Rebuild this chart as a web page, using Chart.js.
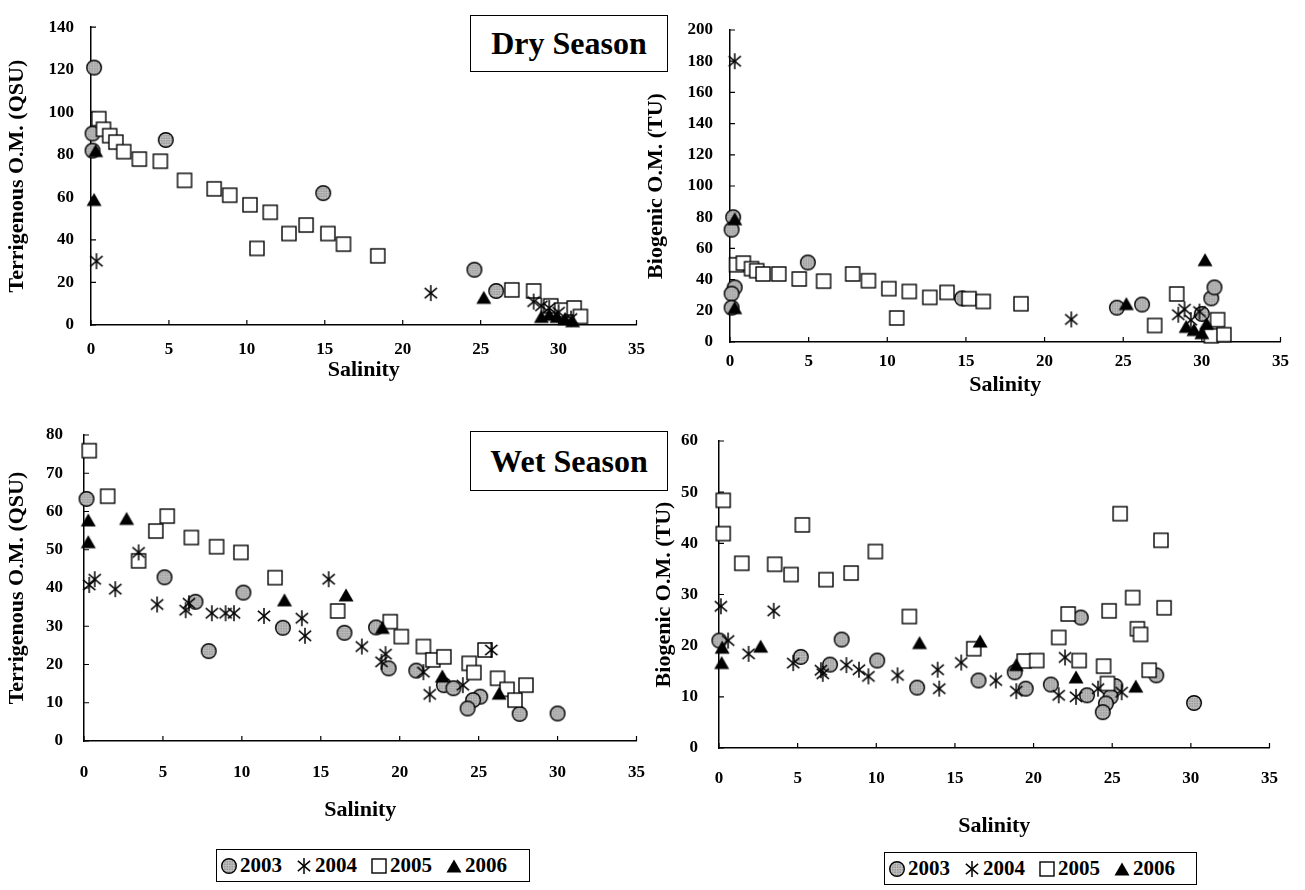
<!DOCTYPE html>
<html>
<head>
<meta charset="utf-8">
<script src="https://cdn.jsdelivr.net/npm/chart.js@4.4.1/dist/chart.umd.min.js"></script>
<style>
    body { margin: 0; background: #fff; width: 1305px; height: 890px; position: relative; overflow: hidden; font-family: "Liberation Serif", "Times New Roman", serif; }
    canvas.panel { position: absolute; }
    .season { position: absolute; border: 1.5px solid #000; background: #fff; font-weight: bold; font-size: 32px; display: flex; align-items: center; justify-content: center; box-sizing: border-box; }
    .legend { position: absolute; border: 1.5px solid #000; background: #fff; font-weight: bold; font-size: 21px; display: flex; align-items: center; box-sizing: border-box; padding-left: 3px; white-space: nowrap; }
    .legend span { display: inline-flex; align-items: center; margin-right: 13px; }
    .legend canvas { margin-right: 2px; }
</style>
</head>
<body>
<canvas id="dryTerr" class="panel"></canvas>
<canvas id="dryBio" class="panel"></canvas>
<canvas id="wetTerr" class="panel"></canvas>
<canvas id="wetBio" class="panel"></canvas>

<div class="season" style="left:470px; top:15px; width:198px; height:57px;">Dry Season</div>
<div class="season" style="left:470px; top:431px; width:198px; height:60px;">Wet Season</div>
<div class="legend" id="legendLeft" style="left:216px; top:849px; width:314px; height:33px;"></div>
<div class="legend" id="legendRight" style="left:884px; top:852px; width:313px; height:33px;"></div>

<script>
// tick labels
const salinityTicks = [0, 5, 10, 15, 20, 25, 30, 35];
const dryTerrTicks = [0, 20, 40, 60, 80, 100, 120, 140];
const dryBioTicks = [0, 20, 40, 60, 80, 100, 120, 140, 160, 180, 200];
const wetTerrTicks = [0, 10, 20, 30, 40, 50, 60, 70, 80];
const wetBioTicks = [0, 10, 20, 30, 40, 50, 60];

const years = ["2003", "2004", "2005", "2006"];

// dry season, terrigenous O.M. (QSU) vs salinity
const dryTerr2003 = [[0.2, 121], [0.1, 90], [0.1, 82], [4.8, 87], [14.9, 62], [24.6, 26], [26.0, 16]];
const dryTerr2004 = [[0.35, 30], [21.8, 15], [28.4, 11], [28.9, 9], [29.4, 8], [30.0, 6], [30.8, 3]];
const dryTerr2005 = [[0.5, 97], [0.8, 92], [1.2, 89], [1.6, 86], [2.1, 81.5], [3.1, 78], [4.45, 77], [6.0, 68],
    [7.9, 64], [8.9, 61], [10.2, 56.5], [11.5, 53], [10.65, 36], [12.7, 43], [13.8, 47], [15.2, 43], [16.2, 38],
    [18.4, 32.5], [27.0, 16.5], [28.4, 16], [29.5, 9], [30.2, 7], [31.0, 8], [31.4, 4]];
const dryTerr2006 = [[0.3, 82], [0.2, 59], [25.2, 13], [28.9, 4], [29.4, 5], [29.9, 4], [30.4, 3], [30.9, 2]];

// dry season, biogenic O.M. (TU)
const dryBio2003 = [[0.2, 80], [0.1, 72], [0.3, 35], [0.1, 31], [0.1, 22], [4.95, 51], [14.75, 28], [24.6, 22],
    [26.2, 24], [30.0, 18], [30.6, 28], [30.8, 35]];
const dryBio2004 = [[0.3, 180], [21.7, 14.5], [28.5, 17.5], [28.9, 21], [29.3, 14], [29.85, 19.5]];
const dryBio2005 = [[0.42, 49.5], [0.85, 50.6], [1.37, 47], [1.7, 45.7], [2.1, 43.6], [3.1, 43.6], [4.4, 40.4],
    [5.95, 39], [7.8, 43.6], [8.8, 39.3], [10.1, 34.2], [11.4, 32.4], [10.6, 15.4], [12.7, 28.6], [13.8, 31.8],
    [15.2, 27.8], [16.1, 26], [18.5, 24.5], [27.0, 10.6], [28.4, 30.8], [31.0, 14.3], [30.6, 4], [31.4, 4.7]];
const dryBio2006 = [[0.3, 79], [0.3, 22], [25.2, 24.6], [30.2, 52.8], [29.0, 10], [29.5, 8], [30.0, 6], [30.3, 12]];

// wet season, terrigenous O.M. (QSU)
const wetTerr2003 = [[0.16, 63.3], [5.1, 42.8], [7.06, 36.4], [7.9, 23.5], [10.1, 38.8], [12.6, 29.6], [16.5, 28.3],
    [18.5, 29.7], [19.3, 19], [21.05, 18.4], [22.8, 14.6], [23.4, 13.8], [25.1, 11.6], [24.65, 10.7], [24.3, 8.5],
    [27.6, 7.1], [30.0, 7.2]];
const wetTerr2004 = [[0.33, 40.8], [0.68, 42.3], [1.98, 39.7], [3.46, 49.3], [4.63, 35.7], [6.44, 34.2], [6.65, 36],
    [8.1, 33.4], [8.97, 33.4], [9.5, 33.4], [11.4, 32.7], [13.8, 32.1], [14.0, 27.5], [15.5, 42.3], [17.6, 24.7],
    [19.1, 22.7], [18.85, 20.7], [21.5, 18], [21.9, 12.2], [24.0, 14.6], [25.8, 23.8]];
const wetTerr2005 = [[0.33, 75.9], [1.5, 64], [3.46, 47.1], [4.55, 54.9], [5.27, 58.8], [6.8, 53.2], [8.4, 50.8],
    [9.94, 49.3], [12.1, 42.7], [16.07, 34], [19.4, 31.2], [20.1, 27.3], [21.5, 24.7], [22.1, 21.2], [22.8, 22],
    [24.4, 20.3], [24.7, 17.9], [25.4, 23.8], [26.2, 16.4], [26.8, 13.5], [27.3, 10.7], [28.0, 14.6]];
const wetTerr2006 = [[0.27, 57.8], [0.27, 52.1], [2.7, 58.2], [12.7, 36.9], [16.6, 38.2], [18.9, 29.7], [22.7, 17], [26.3, 12.5]];

// wet season, biogenic O.M. (TU)
const wetBio2003 = [[0.02, 21], [5.2, 17.8], [7.06, 16.3], [7.8, 21.2], [10.06, 17.1], [12.6, 11.8], [16.5, 13.2],
    [18.8, 14.8], [19.5, 11.6], [21.1, 12.4], [23.0, 25.5], [23.4, 10.3], [25.2, 12.1], [24.9, 10], [24.6, 8.7],
    [24.4, 7], [27.8, 14.2], [30.2, 8.8]];
const wetBio2004 = [[0.12, 27.7], [0.58, 21], [1.88, 18.4], [3.48, 26.8], [4.72, 16.6], [6.48, 15.2], [6.6, 14.5],
    [8.1, 16.2], [8.9, 15.3], [9.5, 14], [11.35, 14.2], [13.9, 15.3], [14.0, 11.6], [15.4, 16.7], [17.6, 13.2],
    [18.9, 11.1], [22.0, 17.7], [21.6, 10.3], [22.7, 10], [24.1, 11.6], [25.6, 10.9]];
const wetBio2005 = [[0.27, 48.4], [0.27, 41.9], [1.45, 36.1], [3.54, 35.9], [4.58, 33.9], [5.3, 43.6], [6.8, 32.9],
    [8.4, 34.2], [9.94, 38.4], [12.1, 25.7], [16.2, 19.4], [19.4, 17], [20.2, 17.1], [21.6, 21.6], [22.2, 26.2],
    [22.9, 17.1], [24.45, 16], [24.7, 12.6], [24.8, 26.8], [25.5, 45.8], [26.3, 29.4], [26.6, 23.3], [26.8, 22.2],
    [27.35, 15.2], [28.1, 40.6], [28.3, 27.4]];
const wetBio2006 = [[0.2, 19.7], [0.17, 16.7], [2.65, 19.9], [12.75, 20.6], [16.6, 20.9], [18.9, 16.3], [22.7, 13.9], [26.5, 12.1]];

const tickFont = { family: "Liberation Serif", size: 17, weight: "bold" };
const titleFont = { family: "Liberation Serif", size: 22, weight: "bold" };

function makeMarker(kind) {
    const c = document.createElement("canvas");
    c.width = 18; c.height = 18;
    const g = c.getContext("2d");
    const m = 9;
    g.strokeStyle = "#000";
    g.lineWidth = 1.4;
    if (kind === "circle") {
        g.save();
        g.beginPath();
        g.arc(m, m, 7.3, 0, Math.PI * 2);
        g.fillStyle = "#999";
        g.fill();
        g.clip();
        g.strokeStyle = "#c4c4c4";
        g.lineWidth = 0.8;
        g.beginPath();
        for (let k = 1; k < 18; k += 2.5) {
            g.moveTo(k, 0); g.lineTo(k, 18);
            g.moveTo(0, k); g.lineTo(18, k);
        }
        g.stroke();
        g.restore();
        g.beginPath();
        g.arc(m, m, 7.3, 0, Math.PI * 2);
        g.stroke();
    } else if (kind === "square") {
        g.fillStyle = "#fff";
        g.fillRect(2, 2, 14, 14);
        g.strokeRect(2, 2, 14, 14);
    } else if (kind === "triangle") {
        g.beginPath();
        g.moveTo(m, 2.5);
        g.lineTo(16.5, 15.5);
        g.lineTo(1.5, 15.5);
        g.closePath();
        g.fillStyle = "#000";
        g.fill();
    } else {
        g.lineWidth = 1.5;
        [90, 40, 140].forEach(a => {
            const r = a * Math.PI / 180, dx = Math.cos(r) * 8, dy = Math.sin(r) * 8;
            g.beginPath();
            g.moveTo(m - dx, m - dy);
            g.lineTo(m + dx, m + dy);
            g.stroke();
        });
    }
    return c;
}

const markerKinds = ["circle", "asterisk", "square", "triangle"];
const drawOrder = [3, 1, 2, 0];

// tick marks pointing into the plot
const inTicks = {
    id: "inTicks",
    beforeDatasetsDraw(chart) {
        const { ctx, scales: { x, y } } = chart;
        ctx.save();
        ctx.strokeStyle = "#000";
        ctx.lineWidth = 1.2;
        ctx.beginPath();
        x.ticks.forEach(t => {
            const px = x.getPixelForValue(t.value);
            ctx.moveTo(px, x.top);
            ctx.lineTo(px, x.top - 5);
        });
        y.ticks.forEach(t => {
            const py = y.getPixelForValue(t.value);
            ctx.moveTo(y.right, py);
            ctx.lineTo(y.right + 5, py);
        });
        ctx.stroke();
        ctx.restore();
    }
};

function panel(id, box, sets, yTicks, yTitle) {
    const cv = document.getElementById(id);
    cv.style.left = box.left + "px";
    cv.style.top = box.top + "px";
    cv.width = box.width;
    cv.height = box.height;

    new Chart(cv, {
        type: "scatter",
        data: {
            datasets: sets.map((s, i) => ({
                label: years[i],
                data: s.map(p => ({ x: p[0], y: p[1] })),
                pointStyle: makeMarker(markerKinds[i]),
                pointRadius: 8,
                order: drawOrder[i],
                clip: false
            }))
        },
        options: {
            responsive: false,
            animation: false,
            devicePixelRatio: 1,
            layout: { padding: box.pad },
            plugins: { legend: { display: false }, tooltip: { enabled: false } },
            scales: {
                x: {
                    type: "linear",
                    min: 0,
                    max: 35,
                    afterBuildTicks: s => { s.ticks = salinityTicks.map(v => ({ value: v })); },
                    ticks: { color: "#000", font: tickFont, padding: box.xLabelPad, maxRotation: 0, autoSkip: false },
                    grid: { drawOnChartArea: false, drawTicks: false },
                    border: { color: "#000", width: 1.5 },
                    title: { display: true, text: "Salinity", color: "#000", font: titleFont, padding: { top: 0, bottom: 3 } },
                    afterFit: s => { s.height = box.xH; }
                },
                y: {
                    type: "linear",
                    min: 0,
                    max: yTicks[yTicks.length - 1],
                    afterBuildTicks: s => { s.ticks = yTicks.map(v => ({ value: v })); },
                    ticks: { color: "#000", font: tickFont, padding: box.yLabelPad, autoSkip: false },
                    grid: { drawOnChartArea: false, drawTicks: false },
                    border: { color: "#000", width: 1.5 },
                    title: { display: true, text: yTitle, color: "#000", font: titleFont, padding: { top: box.yTitlePad, bottom: 0 } },
                    afterFit: s => { s.width = box.yW; }
                }
            }
        },
        plugins: [inTicks]
    });
}

document.addEventListener("DOMContentLoaded", () => {
    panel("dryTerr",
        { left: 0, top: 0, width: 659, height: 387, pad: { left: 0, top: 17, right: 15, bottom: 0 },
          yW: 91, xH: 62, yLabelPad: 17, yTitlePad: 4, xLabelPad: 14 },
        [dryTerr2003, dryTerr2004, dryTerr2005, dryTerr2006], dryTerrTicks, "Terrigenous O.M. (QSU)");

    panel("dryBio",
        { left: 640, top: 0, width: 658, height: 402, pad: { left: 0, top: 30, right: 15, bottom: 0 },
          yW: 90, xH: 60, yLabelPad: 17, yTitlePad: 3, xLabelPad: 9 },
        [dryBio2003, dryBio2004, dryBio2005, dryBio2006], dryBioTicks, "Biogenic O.M. (TU)");

    panel("wetTerr",
        { left: 0, top: 400, width: 666, height: 427, pad: { left: 0, top: 35, right: 15, bottom: 0 },
          yW: 84, xH: 86, yLabelPad: 21, yTitlePad: 4, xLabelPad: 21 },
        [wetTerr2003, wetTerr2004, wetTerr2005, wetTerr2006], wetTerrTicks, "Terrigenous O.M. (QSU)");

    panel("wetBio",
        { left: 645, top: 400, width: 653, height: 443, pad: { left: 0, top: 41, right: 15, bottom: 0 },
          yW: 74, xH: 95, yLabelPad: 21, yTitlePad: 6, xLabelPad: 20 },
        [wetBio2003, wetBio2004, wetBio2005, wetBio2006], wetBioTicks, "Biogenic O.M. (TU)");

    ["legendLeft", "legendRight"].forEach(id => {
        const box = document.getElementById(id);
        years.forEach((yr, i) => {
            const item = document.createElement("span");
            item.appendChild(makeMarker(markerKinds[i]));
            item.appendChild(document.createTextNode(yr));
            box.appendChild(item);
        });
    });
});
</script>
</body>
</html>
